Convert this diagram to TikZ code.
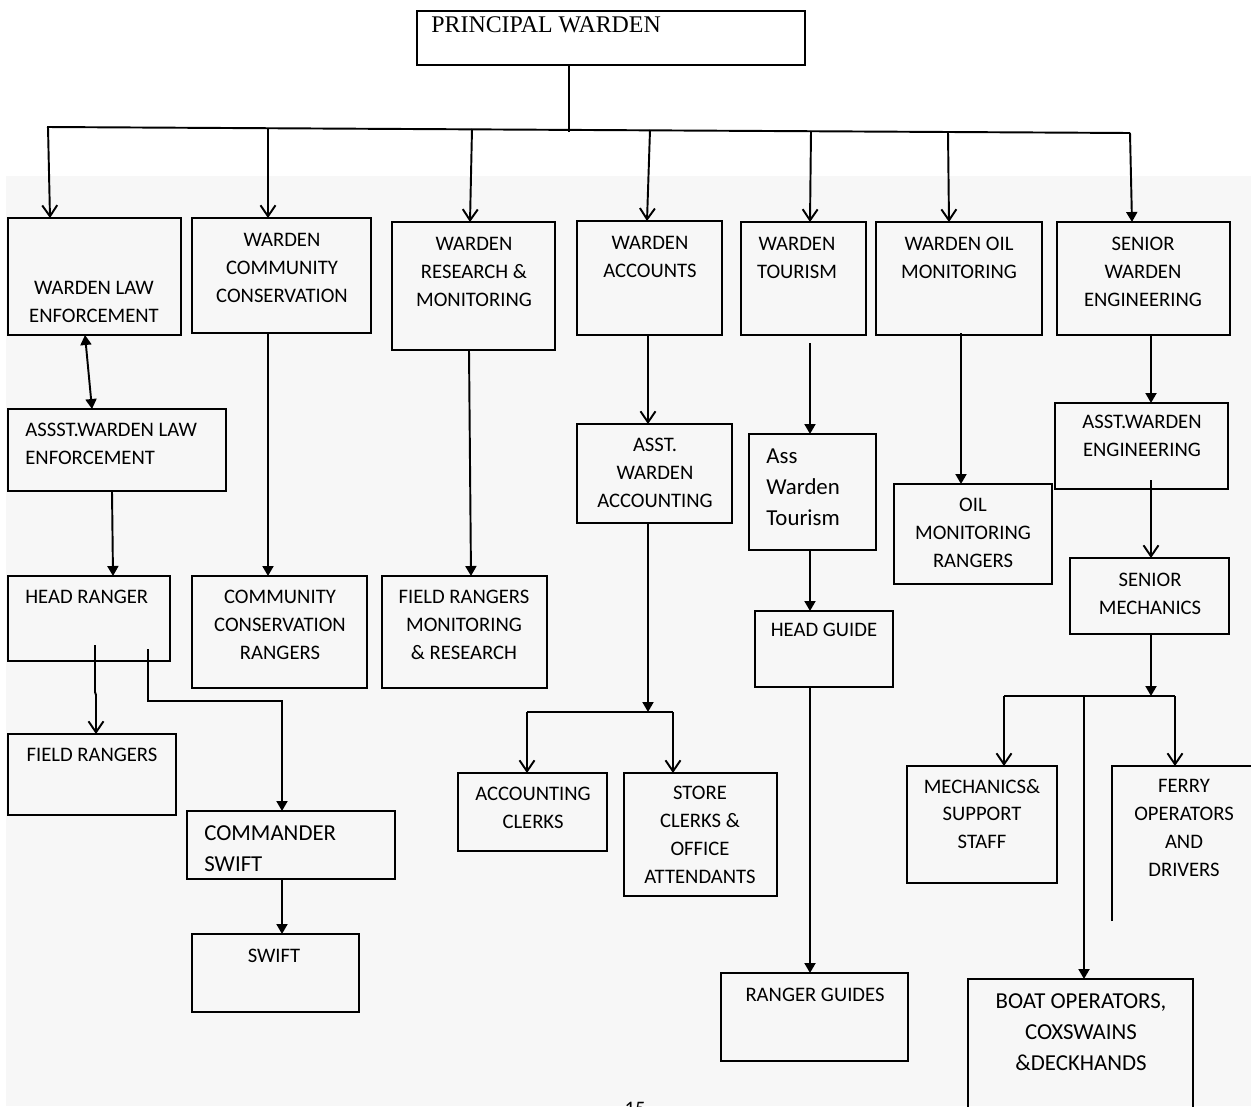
\documentclass[tikz,border=0pt]{standalone}
\usepackage{fontspec}
\setmainfont{Carlito}
\newfontfamily\tnr{Liberation Serif}
\usetikzlibrary{arrows.meta}
\definecolor{bgc}{HTML}{F7F7F7}
\newcommand\mkbox[5]{\node[boxs, minimum width={(#4-#2)*0.02cm}, minimum height={(#5-#3)*0.02cm}] (#1) at ({(#2+#4)/2},{(#3+#5)/2}) {};}
\tikzset{
  boxs/.style={draw, line width=1.1pt, inner sep=0pt, outer sep=0pt},
  txt/.style={inner sep=0pt, align=center, font=\fontsize{11.75}{15.9}\selectfont},
  txtl/.style={inner sep=0pt, align=left, anchor=west, font=\fontsize{11.75}{15.9}\selectfont},
  big/.style={font=\fontsize{13}{17.6}\selectfont},
  con/.style={line width=1.1pt},
  fa/.style={con, -{Triangle[length=0.2cm,width=0.22cm]}},
  oa/.style={con, -{Straight Barb[length=0.22cm,width=0.3cm]}},
}
\begin{document}
\begin{tikzpicture}[x=0.02cm,y=-0.02cm]
\useasboundingbox (0,0) rectangle (1251,1106);
\clip (0,0) rectangle (1251,1106);
\fill[white] (0,0) rectangle (1251,1106);
\fill[bgc] (6,176) rectangle (1251,1106);

% principal
\mkbox{pw}{417}{11}{805}{65}
\node[anchor=west, inner sep=0pt, font=\tnr\fontsize{13.6}{16}\selectfont] (pwt) at (431,25) {PRINCIPAL WARDEN};

% bus
\coordinate (busL) at (47,127);
\coordinate (busR) at (1130,133);
\coordinate (busM) at (569,132);
\draw[con] (busL) -- (busR);
\draw[con] (569,0 |- pw.south) -- (busM);

% top-level boxes
\mkbox{b1}{8}{218}{181}{335}
\mkbox{b2}{192}{218}{371}{333}
\mkbox{b3}{392}{222}{555}{350}
\mkbox{b4}{577}{221}{722}{335}
\mkbox{b5}{741}{222}{866}{335}
\mkbox{b6}{876}{222}{1042}{335}
\mkbox{b7}{1057}{222}{1230}{335}
\node[txt] (t1) at (94,302) {WARDEN LAW\\ENFORCEMENT};
\node[txt] (t2) at (282,268) {WARDEN\\COMMUNITY\\CONSERVATION};
\node[txt] (t3) at (474,272) {WARDEN\\RESEARCH \&\\MONITORING};
\node[txt] (t4) at (650,257) {WARDEN\\ACCOUNTS};
\node[txt] (t5) at (797,258) {WARDEN\\TOURISM};
\node[txt] (t6) at (959,258) {WARDEN OIL\\MONITORING};
\node[txt] (t7) at (1143,272) {SENIOR\\WARDEN\\ENGINEERING};

% drops from bus
\coordinate (d1) at (48,127);
\coordinate (d2) at (268,128);
\coordinate (d3) at (472,129);
\coordinate (d4) at (650,130);
\coordinate (d5) at (811,131);
\coordinate (d6) at (948,132);
\coordinate (d7) at (1130,133);
\draw[oa] (d1) -- (50,0 |- b1.north);
\draw[oa] (d2) -- (268,0 |- b2.north);
\draw[oa] (d3) -- (470,0 |- b3.north);
\draw[oa] (d4) -- (647,0 |- b4.north);
\draw[oa] (d5) -- (810,0 |- b5.north);
\draw[oa] (d6) -- (949,0 |- b6.north);
\draw[fa] (d7) -- (1132,0 |- b7.north);

% law enforcement branch
\mkbox{a1}{8}{409}{226}{491}
\node[txtl] (ta1) at (25,444) {ASSST.WARDEN LAW\\ENFORCEMENT};
\draw[con, {Triangle[length=0.2cm,width=0.22cm]}-{Triangle[length=0.2cm,width=0.22cm]}] (85,0 |- b1.south) -- (92,0 |- a1.north);
\mkbox{hr}{8}{576}{170}{661}
\node[txtl] (thr) at (25,597) {HEAD RANGER};
\draw[fa] (112,0 |- a1.south) -- (113,0 |- hr.north);
\mkbox{fr}{8}{734}{176}{815}
\node[txt] (tfr) at (92,755) {FIELD RANGERS};
\draw[oa] (95,645) -- (95,692) -- (96,695) -- (96,0 |- fr.north);
\mkbox{cs}{187}{811}{395}{879}
\node[txtl, big] (tcs) at (204,849) {COMMANDER\\SWIFT};
\draw[fa] (148,649) -- (148,701) -- (282,701) -- (282,0 |- cs.north);
\mkbox{sw}{192}{934}{359}{1012}
\node[txt] (tsw) at (274,956) {SWIFT};
\draw[fa] (282,0 |- cs.south) -- (282,0 |- sw.north);

% community conservation
\mkbox{ccr}{192}{576}{367}{688}
\node[txt] (tccr) at (280,625) {COMMUNITY\\CONSERVATION\\RANGERS};
\draw[fa] (268,0 |- b2.south) -- (268,0 |- ccr.north);

% research
\mkbox{frmr}{382}{576}{547}{688}
\node[txt] (tfrmr) at (464,625) {FIELD RANGERS\\MONITORING\\\& RESEARCH};
\draw[fa] (469,0 |- b3.south) -- (471,0 |- frmr.north);

% accounts
\mkbox{awa}{577}{424}{732}{523}
\node[txt] (tawa) at (655,473) {ASST.\\WARDEN\\ACCOUNTING};
\draw[oa] (648,0 |- b4.south) -- (648,0 |- awa.north);
\coordinate (f1) at (648,712);
\coordinate (f1L) at (527,712);
\coordinate (f1R) at (673,712);
\draw[fa] (648,0 |- awa.south) -- (f1);
\draw[con] (f1L) -- (f1R);
\mkbox{ac}{458}{773}{607}{851}
\node[txt] (tac) at (533,808) {ACCOUNTING\\CLERKS};
\mkbox{sc}{624}{773}{777}{896}
\node[txt] (tsc) at (700,835) {STORE\\CLERKS \&\\OFFICE\\ATTENDANTS};
\draw[oa] (f1L) -- (527,0 |- ac.north);
\draw[oa] (f1R) -- (673,0 |- sc.north);

% tourism
\mkbox{awt}{749}{434}{876}{550}
\node[txtl, big] (tawt) at (766,487) {Ass\\Warden\\Tourism};
\draw[fa] (810,343) -- (810,0 |- awt.north);
\mkbox{hg}{755}{611}{893}{687}
\node[txt] (thg) at (824,630) {HEAD GUIDE};
\draw[fa] (810,0 |- awt.south) -- (810,0 |- hg.north);
\mkbox{rg}{721}{973}{908}{1061}
\node[txt] (trg) at (815,995) {RANGER GUIDES};
\draw[fa] (810,0 |- hg.south) -- (810,0 |- rg.north);

% oil monitoring
\mkbox{omr}{894}{484}{1052}{584}
\node[txt] (tomr) at (973,533) {OIL\\MONITORING\\RANGERS};
\draw[fa] (961,333) -- (961,0 |- omr.north);

% engineering
\mkbox{awe}{1055}{403}{1228}{489}
\node[txt] (tawe) at (1142,436) {ASST.WARDEN\\ENGINEERING};
\draw[fa] (1151,0 |- b7.south) -- (1151,0 |- awe.north);
\mkbox{sm}{1070}{558}{1229}{634}
\node[txt] (tsm) at (1150,594) {SENIOR\\MECHANICS};
\draw[oa] (1151,480) -- (1151,0 |- sm.north);
\coordinate (f2) at (1151,696);
\coordinate (f2L) at (1004,696);
\coordinate (f2M) at (1084,696);
\coordinate (f2R) at (1175,696);
\draw[fa] (1151,0 |- sm.south) -- (f2);
\draw[con] (f2L) -- (f2R);
\mkbox{mech}{907}{766}{1057}{883}
\node[txt] (tmech) at (982,814) {MECHANICS\&\\SUPPORT\\STAFF};
\draw[oa] (f2L) -- (1004,0 |- mech.north);
\coordinate (ferrytop) at (1175,766);
\draw[con] (1112,921) -- (1112,766) -- (1260,766);
\node[txt] (tferry) at (1184,828) {FERRY\\OPERATORS\\AND\\DRIVERS};
\draw[oa] (f2R) -- (ferrytop);
\mkbox{boat}{968}{979}{1193}{1150}
\node[txt, big] (tboat) at (1081,1032) {BOAT OPERATORS,\\COXSWAINS\\\&DECKHANDS};
\draw[fa] (f2M) -- (1084,0 |- boat.north);

% page number (cut off)
\node[txt] (pg) at (635,1109) {15};
\end{tikzpicture}
\end{document}
